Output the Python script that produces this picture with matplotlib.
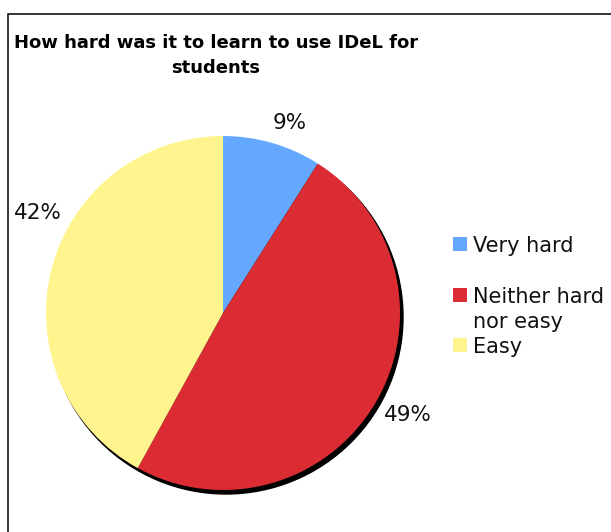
import matplotlib
matplotlib.use('Agg')
import matplotlib.pyplot as plt
from matplotlib.patches import Circle, Rectangle

# data
categories = ['Very hard', 'Neither hard\nnor easy', 'Easy']
shares = [9, 49, 42]
colors = ['#64A9FF', '#DC2C33', '#FFF48E']

W, H = 611, 532
DPI = 100

# where the percentage labels sit, in pie radii from the centre
LABEL_POS = [(0.379, 1.073), (1.045, -0.576), (-1.045, 0.565)]

fig = plt.figure(figsize=(W / DPI, H / DPI), dpi=DPI)

# outer chart frame (only left and top edges visible)
fig.add_artist(Rectangle((8 / W, -0.1), 1.2, 1.1 - 14 / H,
                         transform=fig.transFigure, fill=False,
                         edgecolor='black', linewidth=1.1))

# pie axes: centre (223, 313) px, radius 177 px
cx, cy, r = 223, 313, 177
ax = fig.add_axes([(cx - r) / W, (H - cy - r) / H, 2 * r / W, 2 * r / H])

# drop shadow behind the pie
ax.add_patch(Circle((3 / r, -4 / r), 1.0, color='black', zorder=0,
                    clip_on=False))

wedges, texts, autotexts = ax.pie(
    shares, colors=colors, startangle=90, counterclock=False,
    radius=1.0, autopct='%.0f%%', pctdistance=1.19,
    textprops=dict(fontsize=15.5, color='#111111'),
    wedgeprops=dict(linewidth=0, zorder=1, clip_on=False))
for t, pos in zip(autotexts, LABEL_POS):
    t.set_position(pos)
    t.set_zorder(3)

ax.set_xlim(-1, 1)
ax.set_ylim(-1, 1)
ax.set_axis_off()

fig.text(216 / W, 1 - 34 / H,
         'How hard was it to learn to use IDeL for\nstudents',
         ha='center', va='top', fontsize=13, fontweight='bold',
         linespacing=1.5)

# legend drawn by hand so the square sits on the first line
slot_y = [244, 295, 345]
for label, color, y in zip(categories, colors, slot_y):
    fig.add_artist(Rectangle((453 / W, 1 - (y + 7) / H), 14 / W, 14 / H,
                             transform=fig.transFigure, facecolor=color,
                             edgecolor='none'))
    for k, line in enumerate(label.split('\n')):
        fig.text(473 / W, 1 - (y + 8 + 25 * k) / H, line, ha='left',
                 va='baseline', fontsize=15, color='#111111')

fig.savefig('out.png', dpi=DPI)
